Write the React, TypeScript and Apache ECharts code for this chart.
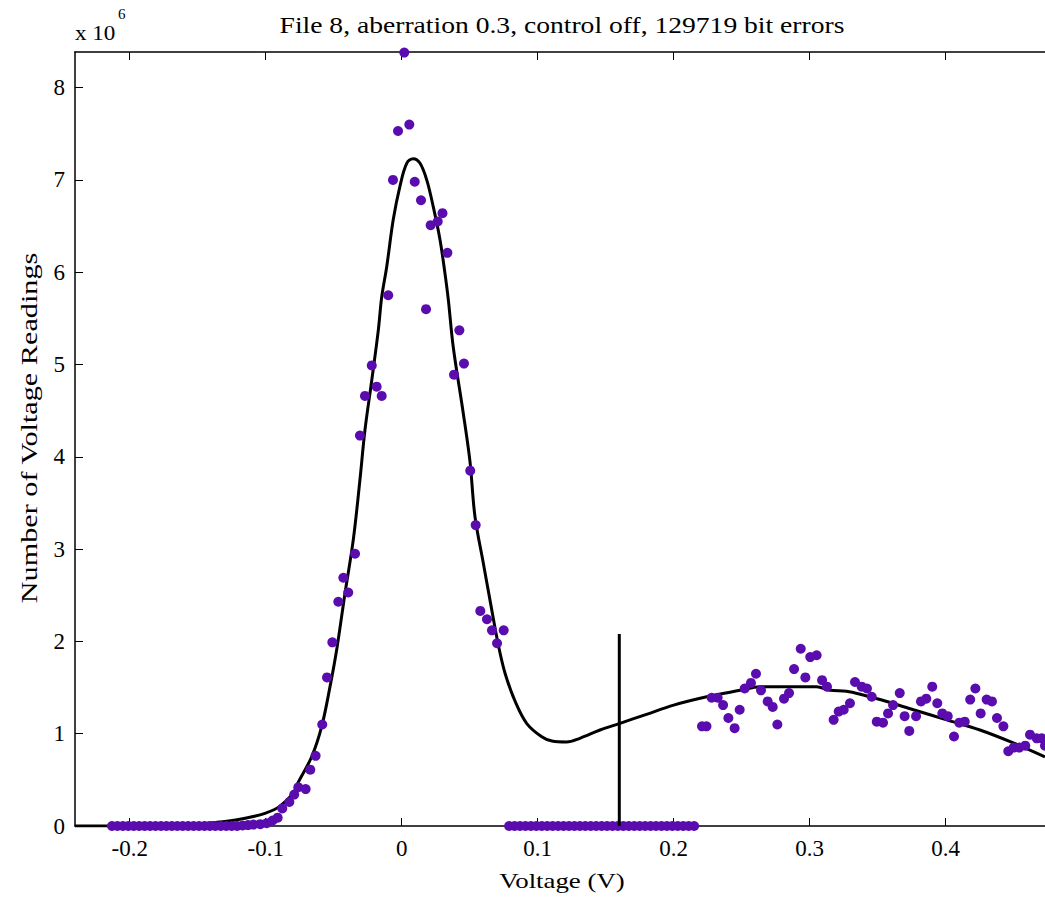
import React, { useEffect, useRef } from "react";
import * as echarts from "echarts";

const TITLE = "File 8, aberration 0.3, control off, 129719 bit errors";
const X_NAME = "Voltage (V)";
const Y_NAME = "Number of Voltage Readings";
const Y_EXP_BASE = "x 10";
const Y_EXP_POWER = "6";

const X_TICKS = [-0.2, -0.1, 0, 0.1, 0.2, 0.3, 0.4];
const Y_TICKS = [0, 1, 2, 3, 4, 5, 6, 7, 8];
const X_MIN = -0.2402;
const X_MAX = 0.473;
const Y_MAX = 8.386;

// measured points (voltage in V, count in units of 1e6)
const leftTailV = [-0.213, -0.209, -0.205, -0.201, -0.197, -0.193, -0.189, -0.185, -0.181, -0.177, -0.173, -0.169, -0.165, -0.161, -0.157, -0.153, -0.149, -0.145, -0.141, -0.137, -0.133, -0.129, -0.125, -0.121, -0.117, -0.113, -0.109, -0.104];
const leftTailN = [0, 0, 0, 0, 0, 0, 0, 0, 0, 0, 0, 0, 0, 0, 0, 0, 0, 0, 0, 0, 0, 0, 0, 0, 0.005, 0.01, 0.015, 0.02];

const peakV = [-0.0993, -0.0949, -0.0912, -0.0878, -0.0826, -0.079, -0.076, -0.0706, -0.0672, -0.0633, -0.0584, -0.0549, -0.051, -0.0466, -0.0429, -0.0393, -0.0343, -0.0307, -0.027, -0.022, -0.0184, -0.0147, -0.0099, -0.0064, -0.0027, 0.0019, 0.0056, 0.0096, 0.0142, 0.0179, 0.0213, 0.0265, 0.030, 0.0336, 0.0385, 0.0424, 0.0458, 0.0504, 0.0544, 0.0578, 0.0627, 0.0664, 0.0701, 0.075];
const peakN = [0.03, 0.06, 0.09, 0.19, 0.26, 0.34, 0.42, 0.40, 0.61, 0.76, 1.10, 1.61, 1.99, 2.43, 2.69, 2.53, 2.95, 4.23, 4.66, 4.99, 4.76, 4.66, 5.75, 7.00, 7.53, 8.38, 7.60, 6.98, 6.78, 5.60, 6.51, 6.55, 6.64, 6.21, 4.89, 5.37, 5.01, 3.85, 3.26, 2.33, 2.24, 2.12, 1.98, 2.12];

const gapV = [0.079, 0.083, 0.087, 0.091, 0.095, 0.099, 0.103, 0.107, 0.111, 0.115, 0.119, 0.123, 0.127, 0.131, 0.135, 0.139, 0.143, 0.147, 0.151, 0.155, 0.159, 0.163, 0.167, 0.171, 0.175, 0.179, 0.183, 0.187, 0.191, 0.195, 0.199, 0.203, 0.207, 0.211, 0.215];
const gapN = [0, 0, 0, 0, 0, 0, 0, 0, 0, 0, 0, 0, 0, 0, 0, 0, 0, 0, 0, 0, 0, 0, 0, 0, 0, 0, 0, 0, 0, 0, 0, 0, 0, 0, 0];

const rightV = [0.2208, 0.2241, 0.2279, 0.2323, 0.2363, 0.2402, 0.2448, 0.2485, 0.2522, 0.2568, 0.2605, 0.2642, 0.2691, 0.2728, 0.2762, 0.2811, 0.2848, 0.2885, 0.2934, 0.2968, 0.3004, 0.3051, 0.3091, 0.3127, 0.3176, 0.3213, 0.325, 0.3296, 0.3333, 0.3382, 0.3421, 0.3456, 0.3493, 0.3539, 0.3576, 0.3613, 0.3662, 0.3698, 0.3732, 0.3782, 0.3818, 0.3857, 0.3901, 0.3938, 0.3975, 0.4015, 0.4061, 0.41, 0.414, 0.418, 0.4218, 0.4257, 0.4301, 0.434, 0.4377, 0.4424, 0.446, 0.45, 0.4541, 0.4585, 0.462, 0.4669, 0.4706, 0.473];
const rightN = [1.08, 1.08, 1.39, 1.39, 1.31, 1.17, 1.06, 1.26, 1.49, 1.55, 1.65, 1.47, 1.35, 1.29, 1.10, 1.38, 1.44, 1.70, 1.92, 1.61, 1.83, 1.85, 1.58, 1.51, 1.15, 1.24, 1.26, 1.33, 1.56, 1.51, 1.49, 1.40, 1.13, 1.12, 1.22, 1.31, 1.44, 1.19, 1.03, 1.19, 1.35, 1.38, 1.51, 1.33, 1.22, 1.19, 0.97, 1.12, 1.13, 1.37, 1.49, 1.22, 1.37, 1.35, 1.17, 1.08, 0.81, 0.85, 0.85, 0.87, 0.99, 0.95, 0.95, 0.87];

// fitted curve
const curveV = [-0.2402, -0.20, -0.17, -0.15, -0.13, -0.12, -0.11, -0.10, -0.09, -0.08, -0.0762, -0.0662, -0.0588, -0.0527, -0.0478, -0.0417, -0.0356, -0.0307, -0.027, -0.022, -0.0172, -0.0147, -0.011, -0.0062, -0.0013, 0.0037, 0.0085, 0.0135, 0.0184, 0.0232, 0.0282, 0.0318, 0.0343, 0.0379, 0.0453, 0.0502, 0.0539, 0.060, 0.0649, 0.0708, 0.0761, 0.084, 0.092, 0.1027, 0.1105, 0.1212, 0.131, 0.1458, 0.16, 0.18, 0.20, 0.2243, 0.2488, 0.2635, 0.305, 0.315, 0.327, 0.3394, 0.3517, 0.3762, 0.4007, 0.4252, 0.4497, 0.473];
const curveN = [0, 0, 0.01, 0.02, 0.05, 0.07, 0.10, 0.14, 0.21, 0.35, 0.47, 0.75, 1.08, 1.51, 1.91, 2.52, 3.10, 3.75, 4.29, 4.83, 5.37, 5.73, 6.06, 6.57, 6.93, 7.18, 7.23, 7.18, 7.00, 6.71, 6.35, 5.99, 5.70, 5.19, 4.47, 3.95, 3.35, 2.85, 2.45, 1.98, 1.65, 1.33, 1.11, 0.97, 0.92, 0.91, 0.95, 1.04, 1.11, 1.21, 1.31, 1.40, 1.47, 1.51, 1.51, 1.47, 1.46, 1.42, 1.37, 1.26, 1.15, 1.04, 0.90, 0.75];

// threshold marker
const markerV = [0.16, 0.16];
const markerN = [0, 2.08];

const zip = (a: number[], b: number[]) => a.map((v, i) => [v, b[i]]);

export default function App() {
  const ref = useRef<HTMLDivElement>(null);
  useEffect(() => {
    const chart = echarts.init(ref.current as HTMLDivElement, null, { renderer: "svg" });
    const font = "'Liberation Serif', 'Times New Roman', serif";
    const points = [
      ...zip(leftTailV, leftTailN),
      ...zip(peakV, peakN),
      ...zip(gapV, gapN),
      ...zip(rightV, rightN),
    ];
    const axisLine = { show: true, onZero: false, lineStyle: { color: "#000", width: 1.5 } };
    const xFmt = (v: number) => (Math.abs(v) < 1e-9 ? "0" : String(Math.round(v * 10) / 10));
    chart.setOption({
      animation: false,
      backgroundColor: "#fff",
      grid: { left: 75, top: 52, width: 970, height: 774, containLabel: false, outerBoundsMode: "none" },
      xAxis: [
        {
          type: "value", min: X_MIN, max: X_MAX, position: "bottom",
          axisLine,
          axisTick: { show: true, inside: true, length: 8, customValues: X_TICKS, lineStyle: { color: "#000", width: 1 } },
          axisLabel: { customValues: X_TICKS, formatter: xFmt, fontFamily: font, fontSize: 23, color: "#000", margin: 11 },
          splitLine: { show: false },
        },
        {
          type: "value", min: X_MIN, max: X_MAX, position: "top",
          axisLine,
          axisTick: { show: true, inside: true, length: 8, customValues: X_TICKS, lineStyle: { color: "#000", width: 1 } },
          axisLabel: { show: false },
          splitLine: { show: false },
        },
      ],
      yAxis: {
        type: "value", min: 0, max: Y_MAX,
        axisLine,
        axisTick: { show: true, inside: true, length: 8, customValues: Y_TICKS, lineStyle: { color: "#000", width: 1 } },
        axisLabel: { customValues: Y_TICKS, formatter: (v: number) => String(Math.round(v)), fontFamily: font, fontSize: 23, color: "#000", margin: 10 },
        splitLine: { show: false },
      },
      graphic: [
        { type: "text", x: 562, y: 25, scaleX: 1.2, style: { text: TITLE, font: `23px ${font}`, fill: "#000", textAlign: "center", textVerticalAlign: "middle" } },
        { type: "text", x: 562, y: 880, scaleX: 1.22, style: { text: X_NAME, font: `22px ${font}`, fill: "#000", textAlign: "center", textVerticalAlign: "middle" } },
        { type: "text", x: 29, y: 428, rotation: Math.PI / 2, scaleX: 1.26, style: { text: Y_NAME, font: `24px ${font}`, fill: "#000", textAlign: "center", textVerticalAlign: "middle" } },
        { type: "text", x: 75, y: 33, scaleX: 1.1, style: { text: Y_EXP_BASE, font: `21px ${font}`, fill: "#000", textAlign: "left", textVerticalAlign: "middle" } },
        { type: "text", x: 118, y: 14, style: { text: Y_EXP_POWER, font: `15px ${font}`, fill: "#000", textAlign: "left", textVerticalAlign: "middle" } },
      ],
      series: [
        {
          type: "line", data: zip(curveV, curveN), smooth: 0.35, showSymbol: false, symbol: "none",
          lineStyle: { color: "#000", width: 3 }, z: 2, silent: true,
        },
        {
          type: "scatter", data: points, symbol: "circle", symbolSize: 10,
          itemStyle: { color: "#5a0cae", opacity: 1 }, z: 3, silent: true,
        },
        {
          type: "line", data: zip(markerV, markerN), showSymbol: false, symbol: "none",
          lineStyle: { color: "#000", width: 3 }, z: 4, silent: true,
        },
      ],
    });
    return () => chart.dispose();
  }, []);
  return <div ref={ref} style={{ position: "absolute", left: 0, top: 0, width: 1045, height: 899 }} />;
}
